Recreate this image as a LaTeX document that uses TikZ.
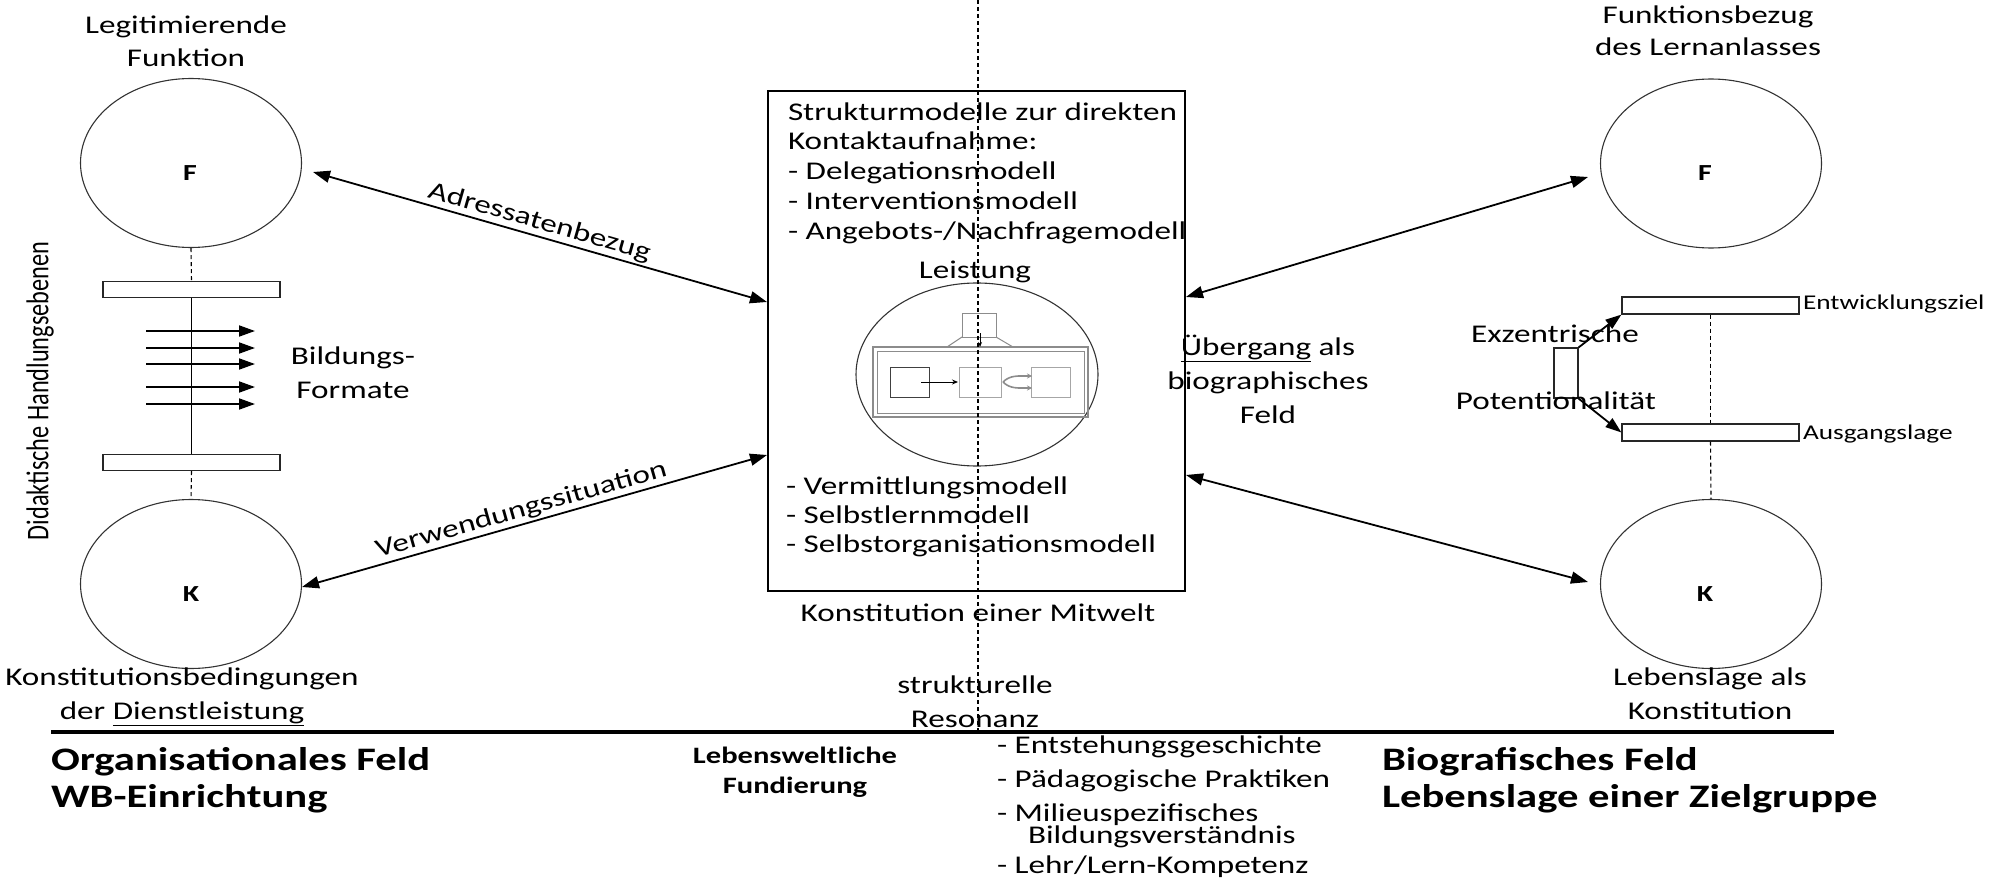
\documentclass[tikz,border=0pt]{standalone}
\usepackage{fontspec}
\usepackage{graphicx}
\setmainfont{Carlito}[FakeStretch=1.3]
\newfontfamily\plaincarlito{Carlito}
\usetikzlibrary{arrows.meta,shapes.geometric}
\begin{document}
\begin{tikzpicture}[x=1pt,y=-1pt,
  mytxt/.style={inner sep=0pt, outer sep=0pt, align=center, anchor=base, font=\fontsize{25.5}{34}\selectfont},
  myboxtxt/.style={inner sep=0pt, outer sep=0pt, align=left, anchor=base west, font=\fontsize{25.5}{29.8}\selectfont},
  myline/.style={inner sep=0pt, outer sep=0pt, anchor=base west, font=\fontsize{25.5}{34}\selectfont},
  myhead/.style={inner sep=0pt, outer sep=0pt, align=left, anchor=base west, font=\bfseries\fontsize{32.8}{37}\selectfont},
  myletter/.style={inner sep=0pt, outer sep=0pt, font=\bfseries\fontsize{23}{26}\selectfont},
  mysmall/.style={inner sep=0pt, outer sep=0pt, anchor=base west, font=\fontsize{21}{25}\selectfont},
  myoval/.style={ellipse, draw=black!80, line width=1.1pt, minimum width=221pt, minimum height=169pt, inner sep=0pt},
  mybar/.style={rectangle, draw=black!85, line width=1.2pt, minimum width=177pt, minimum height=16pt, inner sep=0pt},
  myconn/.style={{Triangle[length=17pt,width=12pt]}-{Triangle[length=17pt,width=12pt]}, line width=1.8pt},
  mydashed/.style={dash pattern=on 4pt off 3pt, line width=1.1pt},
  myfmt/.style={-{Triangle[length=16pt,width=11pt]}, line width=1.8pt},
  innergrey/.style={draw=black!45, line width=1pt}
]
\useasboundingbox (0,0) rectangle (1997,880);

% ---------------- left column ----------------
\node[mytxt, font=\fontsize{25.5}{33}\selectfont] (ltitle) at (186,67) {Legitimierende\\Funktion};
\node[myoval] (lF) at (191,163) {};
\node[myletter] (lFt) at (190,173.5) {F};
\node[mybar] (lr1) at (191.5,289.5) {};
\node[mybar] (lr2) at (191.5,462.5) {};
\node[myoval] (lK) at (191,584) {};
\node[myletter] (lKt) at (191,594.5) {K};
\draw[mydashed] (lF.south) -- (lr1.north);
\draw[line width=1.2pt] (lr1.south) -- (lr2.north);
\draw[mydashed] (lr2.south) -- (lK.north);
\foreach \yy in {331,348,364,387,404}{
  \draw[myfmt] (146,\yy) -- (255,\yy);
}
\node[mytxt] (bild) at (353,398) {Bildungs-\\Formate};
\node[mytxt] (lbottom) at (182,719) {Konstitutionsbedingungen\\der \underline{Dienstleistung}};
\node[rotate=90, inner sep=0pt, font=\plaincarlito\fontsize{24.3}{28}\selectfont] (vtxt) at (40,391) {\scalebox{1}[1.3]{Didaktische Handlungsebenen}};

% ---------------- central box ----------------
\node[rectangle, draw, line width=2pt, minimum width=417pt, minimum height=500pt, inner sep=0pt] (mbox) at (976.5,341) {};
\node[myboxtxt] (mtop) at (788,239.2) {Strukturmodelle zur direkten\\Kontaktaufnahme:\\- Delegationsmodell\\- Interventionsmodell\\- Angebots-/Nachfragemodell};
\node[mytxt] (leist) at (975,278) {Leistung};
\node[ellipse, draw=black!80, line width=1.1pt, minimum width=242pt, minimum height=183pt, inner sep=0pt] (lcirc) at (977,374.5) {};
\node[myboxtxt, font=\fontsize{25.5}{29}\selectfont] (mbot) at (786,552) {- Vermittlungsmodell\\- Selbstlernmodell\\- Selbstorganisationsmodell};
\node[mytxt] (mitwelt) at (978,621) {Konstitution einer Mitwelt};

% inner sketch inside the circle
\draw[innergrey] (962,313) rectangle (996,337);
\draw[innergrey] (962,337) -- (947,347);
\draw[innergrey] (996,337) -- (1013,347);
\draw[draw=black!45, line width=1.6pt] (873,347) rectangle (1088,417);
\draw[draw=black!45, line width=1pt] (877,351) rectangle (1084,413);
\draw[draw=black!75, line width=1pt] (890,367) rectangle (929,397);
\draw[draw=black!35, line width=1pt] (959,367) rectangle (1001,397);
\draw[draw=black!35, line width=1pt] (1031,367) rectangle (1070,397);
\draw[-{Stealth[length=6pt,width=5pt]}, line width=0.9pt] (921,382) -- (958,382);
\draw[-{Stealth[length=5pt,width=4pt]}, line width=0.9pt] (980,333) -- (980,347);
\draw[draw=black!45, line width=1.6pt, -{Stealth[length=5pt,width=5pt]}] (1003,382) .. controls (1010,375) and (1018,376) .. (1032,376);
\draw[draw=black!45, line width=1.6pt, -{Stealth[length=5pt,width=5pt]}] (1003,382) .. controls (1010,389) and (1018,388) .. (1032,388);

% ---------------- right column ----------------
\node[mytxt, font=\fontsize{25.5}{32}\selectfont] (rtitle) at (1708,56) {Funktionsbezug\\des Lernanlasses};
\node[myoval] (rF) at (1711,163.5) {};
\node[myletter] (rFt) at (1705,173.5) {F};
\node[mybar, minimum height=17pt] (ur) at (1710.5,305.5) {};
\node[mybar, minimum height=17pt] (lr) at (1710.5,432.5) {};
\node[mysmall] (entw) at (1803,309) {Entwicklungsziel};
\node[mysmall] (ausg) at (1803,439) {Ausgangslage};
\node[rectangle, draw=black!85, line width=1.2pt, minimum width=24pt, minimum height=50pt, inner sep=0pt] (sr) at (1566,373) {};
\node[mytxt] (exz) at (1555,342) {Exzentrische};
\node[mytxt] (pot) at (1556,409) {Potentionalität};
\draw[myfmt] (sr.north east) -- (ur.south west);
\draw[myfmt] (sr.south east) -- (lr.west);
\node[myoval] (rK) at (1711,584) {};
\node[myletter] (rKt) at (1705,594.5) {K};
\draw[mydashed] (ur.south) -- (lr.north);
\draw[mydashed] (lr.south) -- (rK.north);
\node[mytxt] (rbottom) at (1710,719) {Lebenslage als\\Konstitution};
\node[mytxt] (uebg) at (1268,423) {\underline{Übergang} als\\biographisches\\Feld};

% ---------------- connectors ----------------
\coordinate (a1s) at (313,172);
\coordinate (a1e) at (767,302);
\coordinate (a2s) at (302,587);
\coordinate (a2e) at (767,455);
\coordinate (a3s) at (1186,297);
\coordinate (a3e) at (1588,177);
\coordinate (a4s) at (1186,475);
\coordinate (a4e) at (1588,582);
\draw[myconn] (a1s) -- node[pos=0.49, above, sloped, inner sep=2pt, font=\fontsize{25.5}{30}\selectfont] (adr) {Adressatenbezug} (a1e);
\draw[myconn] (a2s) -- node[pos=0.48, above, sloped, inner sep=2pt, font=\fontsize{25.5}{30}\selectfont] (verw) {Verwendungssituation} (a2e);
\draw[myconn] (a3s) -- (a3e);
\draw[myconn] (a4s) -- (a4e);

% ---------------- bottom ----------------
\coordinate (hl1) at (51,732);
\coordinate (hl2) at (1834,732);
\coordinate (dc1) at (978,0);
\coordinate (dc2) at (978,732);
\draw[mydashed] (dc1) -- (dc2);
\draw[line width=3.5pt] (hl1) -- (hl2);
\node[mytxt] (reson) at (975,727) {strukturelle\\Resonanz};
\node[myhead] (orgf) at (51,807) {Organisationales Feld\\WB-Einrichtung};
\node[mytxt, font=\bfseries\fontsize{23.5}{30}\selectfont] (lebw) at (795,793) {Lebensweltliche\\Fundierung};
\node[myhead] (biof) at (1382,807) {Biografisches Feld\\Lebenslage einer Zielgruppe};
\node[myline] (li1) at (997,753) {- Entstehungsgeschichte};
\node[myline] (li2) at (997,787) {- Pädagogische Praktiken};
\node[myline] (li3) at (997,821) {- Milieuspezifisches};
\node[myline] (li4) at (1028,843) {Bildungsverständnis};
\node[myline] (li5) at (997,873) {- Lehr/Lern-Kompetenz};
\end{tikzpicture}
\end{document}
